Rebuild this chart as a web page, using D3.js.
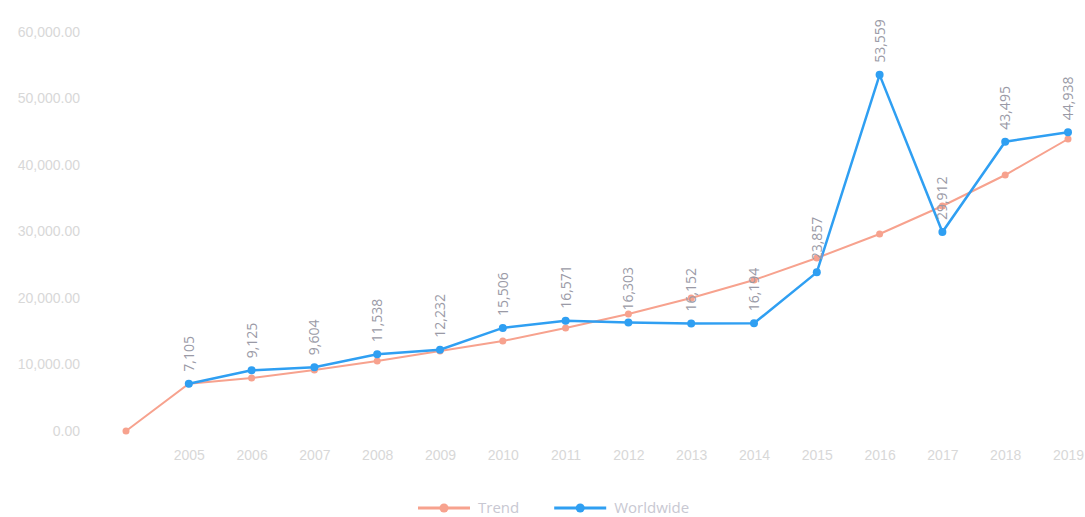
<!DOCTYPE html>
<html>
<head>
<meta charset="utf-8">
<script src="https://cdn.jsdelivr.net/npm/d3@7/dist/d3.min.js"></script>
<style>
  body { margin: 0; background: #fff; }
  svg { display: block; font-family: "Open Sans", "DejaVu Sans", sans-serif; }
</style>
</head>
<body>
<svg id="chart" width="1085" height="517"></svg>
<script>
// categories (first one has no label)
const years = ["", "2005", "2006", "2007", "2008", "2009", "2010", "2011", "2012",
    "2013", "2014", "2015", "2016", "2017", "2018", "2019"];

const trend = [0, 7105, 7970, 9173, 10526, 12030, 13534, 15489, 17594,
    20000, 22707, 26015, 29624, 33835, 38496, 43910];

const worldwide = [null, 7105, 9125, 9604, 11538, 12232, 15506, 16571, 16303,
    16152, 16194, 23857, 53559, 29912, 43495, 44938];

const yTicks = [0, 10000, 20000, 30000, 40000, 50000, 60000];

const seriesNames = ["Trend", "Worldwide"];
const colors = { Trend: "#f7a28e", Worldwide: "#2f9ff2" };

const svg = d3.select("#chart");

const x = d3.scalePoint().domain(d3.range(years.length)).range([126, 1068]);
const y = d3.scaleLinear().domain([0, 60000]).range([431, 32]);

const fmtAxis = d3.format(",.2f");
const fmtLabel = d3.format(",");

// y axis
const yAxis = d3.axisLeft(y).tickValues(yTicks).tickFormat(fmtAxis).tickSize(0).tickPadding(0);
svg.append("g")
    .attr("transform", "translate(80,0)")
    .call(yAxis)
    .call((g) => g.select(".domain").remove())
    .selectAll("text")
    .attr("fill", "#d8d8d8")
    .style("font-size", "14px");

// x axis
const xAxis = d3.axisBottom(x).tickFormat((i) => years[i]).tickSize(0).tickPadding(0);
svg.append("g")
    .attr("transform", "translate(0,450)")
    .call(xAxis)
    .call((g) => g.select(".domain").remove())
    .selectAll("text")
    .attr("fill", "#d8d8d8")
    .style("font-size", "14px");

const line = d3.line()
    .defined((d) => d != null)
    .x((d, i) => x(i))
    .y((d) => y(d));

// trend series
svg.append("path")
    .datum(trend)
    .attr("fill", "none")
    .attr("stroke", colors.Trend)
    .attr("stroke-width", 2)
    .attr("d", line);

svg.append("g")
    .selectAll("circle")
    .data(trend)
    .join("circle")
    .attr("cx", (d, i) => x(i))
    .attr("cy", (d) => y(d))
    .attr("r", 3.5)
    .attr("fill", colors.Trend);

// worldwide series
svg.append("path")
    .datum(worldwide)
    .attr("fill", "none")
    .attr("stroke", colors.Worldwide)
    .attr("stroke-width", 2.5)
    .attr("d", line);

const ww = worldwide.map((d, i) => ({ v: d, i })).filter((d) => d.v != null);

svg.append("g")
    .selectAll("circle")
    .data(ww)
    .join("circle")
    .attr("cx", (d) => x(d.i))
    .attr("cy", (d) => y(d.v))
    .attr("r", 4)
    .attr("fill", colors.Worldwide);

// vertical data labels above worldwide points
svg.append("g")
    .selectAll("text")
    .data(ww)
    .join("text")
    .attr("transform", (d) => `translate(${x(d.i) + 5},${y(d.v) - 12}) rotate(-90)`)
    .attr("text-anchor", "start")
    .attr("fill", "#9a9aa6")
    .style("font-size", "14px")
    .text((d) => fmtLabel(d.v));

// legend
const legend = svg.append("g").attr("transform", "translate(418,508)");
let lx = 0;
seriesNames.forEach((name) => {
    const g = legend.append("g").attr("transform", `translate(${lx},0)`);
    g.append("line")
        .attr("x1", 0).attr("x2", 52)
        .attr("y1", 0).attr("y2", 0)
        .attr("stroke", colors[name])
        .attr("stroke-width", 3);
    g.append("circle").attr("cx", 26).attr("cy", 0).attr("r", 4.5).attr("fill", colors[name]);
    const t = g.append("text")
        .attr("x", 60)
        .attr("y", 5)
        .attr("fill", "#c8c8d2")
        .style("font-size", "15px")
        .text(name);
    lx += 60 + t.node().getComputedTextLength() + 35;
});
</script>
</body>
</html>
